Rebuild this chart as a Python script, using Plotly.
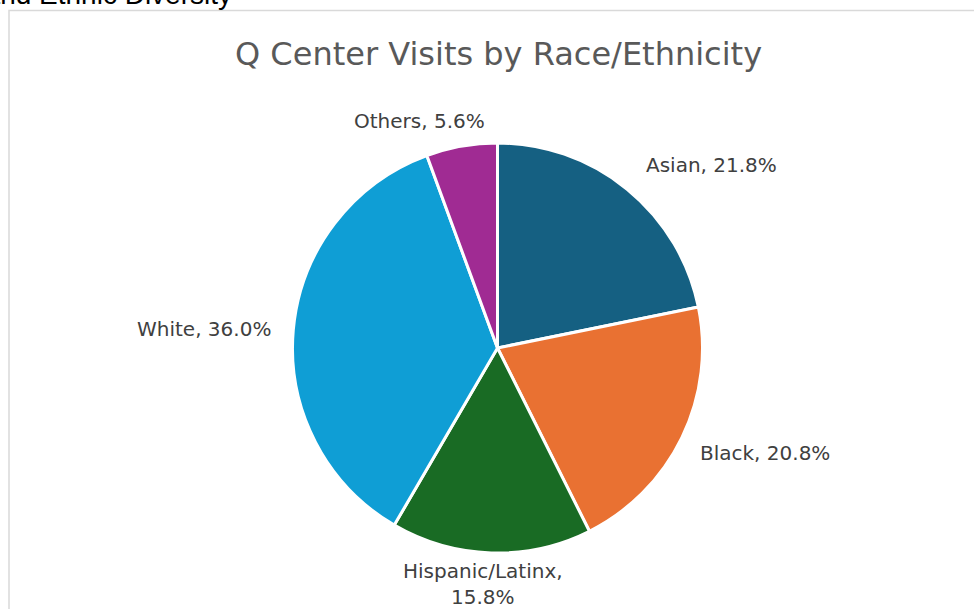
import plotly.graph_objects as go

categories = ["Asian", "Black", "Hispanic/Latinx", "White", "Others"]
values = [21.8, 20.8, 15.8, 36.0, 5.6]
colors = ["#156082", "#E97132", "#196B24", "#0F9ED5", "#A02B93"]
label_texts = ["Asian, 21.8%", "Black, 20.8%", "Hispanic/Latinx,<br>15.8%", "White, 36.0%", "Others, 5.6%"]

W, H = 974, 609
cx, cy, r = 497.5, 348, 205
FONT = "DejaVu Sans, Liberation Sans, Arial"

fig = go.Figure(go.Pie(
    labels=categories, values=values, sort=False, direction="clockwise", rotation=0,
    marker=dict(colors=colors, line=dict(color="white", width=3)),
    textinfo="none", hoverinfo="label+percent", showlegend=False,
    domain=dict(x=[(cx - r) / W, (cx + r) / W], y=[(H - cy - r) / H, (H - cy + r) / H]),
))

# label positions (pixel centres, Excel best-fit placement)
label_pos = [(711, 165), (765, 453), (483, 584), (204, 329), (419, 121)]
for txt, (px, py) in zip(label_texts, label_pos):
    fig.add_annotation(x=px / W, y=1 - py / H, xref="paper", yref="paper", text=txt,
                       showarrow=False, xanchor="center", yanchor="middle",
                       font=dict(family=FONT, size=20, color="#404040"))

fig.add_annotation(x=498 / W, y=1 - 54 / H, xref="paper", yref="paper",
                   text="Q Center Visits by Race/Ethnicity", showarrow=False,
                   xanchor="center", yanchor="middle",
                   font=dict(family=FONT, size=32, color="#595959"))

fig.add_annotation(x=234 / W, y=1 + 6 / H, xref="paper", yref="paper",
                   text="Racial and Ethnic Diversity", showarrow=False,
                   xanchor="right", yanchor="middle",
                   font=dict(family="Liberation Sans, Arial", size=28, color="#000000"))

fig.add_shape(type="rect", xref="paper", yref="paper",
              x0=9 / W, x1=1.05, y0=-0.05, y1=1 - 10.5 / H,
              line=dict(color="#D9D9D9", width=1.5), fillcolor="rgba(0,0,0,0)")

fig.update_layout(width=W, height=H, margin=dict(l=0, r=0, t=0, b=0),
                  paper_bgcolor="white", plot_bgcolor="white")
fig.write_html("out.html", config={"displayModeBar": False},
               post_script="document.body.style.margin='0';")
